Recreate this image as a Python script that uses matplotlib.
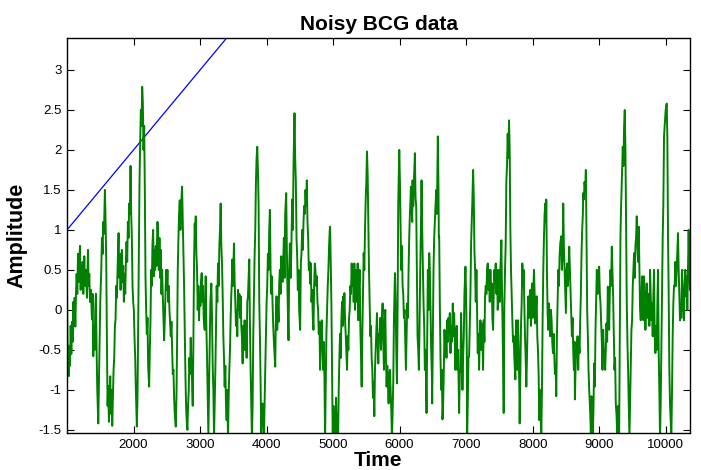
import numpy as np
import matplotlib
matplotlib.use("Agg")
import matplotlib.pyplot as plt
from matplotlib.ticker import FuncFormatter

# ---------------- data ----------------
# Each chunk: sample offsets (in steps of 5 time units from a chunk start time) and amplitudes
chunk1_start = 985
chunk1_off = [3,5,8,10,12,14,16,18,20,22,24,26,28,30,32,34,36,38,40,42,44,46,48,50,52,55,57,60,63,66,68,70,72,75,78,80,82,84,86,88,90,92,94,97,99,101,103,106,108,110,112,114,117,119,121,123,125,127,129,131,133,135,137,139,141,143,145,147,149,151,153,155,158,160,162,164,166,168,170,172,174,176,178,180,182,184,186,188,190,192,194,196,198,200,202,204,206,208,210,213,215,217,219,221,223,225,227,229,231,233,235,237,239,241,243,245,247,250,252,254,256,258,260,262,264,266,268,270,272,275,277,279,281,283,285,287,289,291,293,295,297,299,301,303,305,307,309,311,313,315,317,319,321,323,325,327,330,332,334,336,338,340,342,344,346,349,351,353,355,357,359,361,363,365,367,369,371,373,375,377]
chunk1_val = [0.33,-0.6,-0.83,-0.45,-0.7,-0.2,-0.55,-0.15,-0.4,0.1,-0.2,0.15,-0.21,0.2,0.45,0.2,0.7,0.35,0.6,0.8,0.25,0.55,0.3,0.6,0.2,0.67,0.3,0.5,0.15,0.75,0.3,0.45,0.1,0.25,-0.12,0.2,-0.58,-0.2,-0.5,0.0,0.2,-0.5,-1.0,-1.42,-0.9,-0.4,0.1,0.5,0.9,0.7,1.1,0.95,1.5,1.1,0.6,-0.4,-1.2,-0.95,-1.4,-1.1,-0.83,-1.3,-1.0,-1.45,-1.1,-0.75,-0.6,-0.2,-0.12,0.3,0.15,0.5,0.96,0.4,0.7,0.25,0.6,0.75,0.35,0.55,0.1,0.45,0.2,0.6,0.85,0.6,1.1,0.9,1.33,1.2,1.8,1.2,0.9,0.3,0.1,0.0,-0.35,-0.6,-1.0,-1.46,-1.1,-0.2,0.8,1.6,2.1,2.5,2.3,2.79,2.6,2.0,2.3,1.5,0.4,0.0,-0.3,-0.1,-0.7,-0.96,-0.5,-0.13,0.5,0.3,0.83,1.0,0.42,0.75,0.5,0.8,0.55,1.1,0.9,0.5,0.9,0.4,0.75,0.2,0.5,0.17,-0.1,-0.38,-0.13,0.2,0.5,0.25,0.5,0.1,0.3,0.0,-0.17,-0.33,-0.15,-0.5,-0.8,-0.75,-1.1,-1.3,-1.46,-1.1,-0.4,0.5,0.9,1.2,1.37,1.0,1.3,1.54,1.1,0.7,0.3,-0.3,-0.8,-1.2,-1.4,-1.5,-1.2,-1.0,-0.6,-0.8,-0.35,-0.7]

chunk2_start = 2845
chunk2_off = [7,9,11,13,15,17,18,20,22,24,26,28,30,32,34,36,38,40,42,45,48,50,52,54,56,58,60,62,65,67,69,71,73,75,77,79,81,83,85,87,89,91,93,95,97,99,101,103,105,107,109,111,113,115,117,119,121,123,125,127,128,130,133,135,137,139,141,143,145,147,149,151,153,155,157,159,161,163,165,167,169,171,173,175,177,179,181,183,185,187,189,191,193,195,197,199,201,203,205,207,209,211,213,215,217,219,221,223,225,227,229,231,233,235,237,239,241,243,245,247,249,251,253,255,257,259,261,263,265,267,269,271,273,275,277,279,281,283,285,287,290,292,294,296,297,299,301,303,305,307,308,310,312,314,315,317,319,321,323,325,327,329,332,334,336,338,340,342,344,346,348,350,352,354,356,358,360,362,364,366,368,370,372,374,376]
chunk2_val = [-0.9,-1.2,-0.4,0.6,1.08,0.8,1.17,0.7,0.5,0.0,0.3,-0.13,0.2,0.05,0.35,0.46,0.1,0.3,-0.1,-0.25,0.42,-0.2,-0.6,-1.1,-1.55,-1.0,-0.4,0.1,0.33,-0.1,-0.7,-1.0,-1.6,-1.2,-0.75,-0.2,0.3,0.1,0.58,0.3,0.8,1.0,1.33,0.8,0.58,0.2,-0.33,-0.6,-0.96,-0.7,-1.2,-1.38,-1.0,-1.6,-1.1,-0.75,-0.5,-0.1,0.2,0.4,0.63,0.3,0.83,0.35,0.1,-0.2,0.0,-0.33,0.25,0.0,0.2,-0.1,0.17,-0.2,-0.35,-0.67,-0.2,-0.5,-0.13,-0.5,-0.2,-0.6,0.1,0.17,0.4,0.63,-0.2,-0.75,-1.2,-1.6,-1.2,-0.33,0.2,0.67,1.0,1.6,1.9,2.04,1.75,1.33,0.1,-0.33,-0.9,-1.6,-1.2,-1.17,-1.3,-1.6,-1.2,-0.75,-0.33,0.08,0.3,0.7,0.5,1.0,1.25,0.5,0.2,0.42,0.08,-0.2,-0.4,-0.55,-0.71,-0.1,0.17,-0.25,0.1,-0.15,0.33,0.5,0.2,0.67,0.42,0.35,0.6,0.9,0.4,1.2,1.46,0.75,0.2,-0.2,-0.38,0.5,0.83,0.4,0.67,1.1,1.38,1.0,1.8,2.2,2.46,1.9,1.6,0.9,0.67,0.25,0.5,0.0,-0.25,0.58,0.71,1.0,0.75,1.1,1.3,1.2,1.5,1.3,1.62,1.1,0.9,0.5,0.6,0.33,0.58,0.1,0.25,-0.1,-0.25,0.3,0.58]

chunk3_start = 4704.5
chunk3_off = [6,8,10,12,14,16,18,20,22,25,27,29,31,33,35,37,39,41,43,45,47,49,50,52,54,56,58,60,62,64,66,68,70,72,74,76,78,80,82,84,86,88,90,92,93,95,97,99,101,103,105,107,109,111,113,115,117,119,121,123,125,127,129,131,133,135,137,139,141,143,145,147,149,151,153,155,157,159,161,163,165,167,169,171,173,175,177,179,181,183,185,187,189,191,193,195,197,199,201,203,205,208,210,212,214,216,218,220,222,224,226,228,230,232,234,236,238,240,242,244,245,247,249,251,253,255,257,258,260,262,264,266,268,270,272,274,276,278,280,282,284,286,288,290,292,293,295,297,298,300,302,305,307,309,311,313,315,317,319,321,323,325,327,329,331,333,335,337,339,340,342,344,346,348,350,352,354,356,357,359,361,363,365,367,369,371,373,374,376,377]
chunk3_val = [0.5,0.3,0.42,0.1,0.0,-0.3,-0.15,-0.75,-0.3,-0.13,-0.5,-0.75,-0.4,-0.83,-1.6,-0.9,-0.3,0.0,0.3,0.5,0.8,1.0,1.04,0.6,0.08,-0.7,-1.6,-1.2,-1.4,-1.29,-1.6,-1.1,-1.6,-1.3,-1.6,-1.0,-0.6,-0.3,-0.6,-0.13,0.1,-0.2,0.17,0.05,0.21,-0.13,-0.3,-0.54,-0.75,-0.33,-0.5,-0.1,0.0,0.3,0.2,0.58,0.3,0.5,0.1,0.58,0.0,0.3,0.5,0.1,0.58,-0.13,0.3,0.5,-0.2,-0.6,-0.96,-0.3,0.2,0.71,0.5,1.0,1.37,1.6,1.98,1.7,1.1,0.5,0.1,-0.33,-0.2,-0.6,-0.75,-1.1,-0.9,-1.33,-0.75,-0.5,-0.25,-0.04,-0.4,-0.67,-0.3,-0.33,-0.1,-0.5,-0.2,0.08,-0.4,-0.75,-0.2,0.0,-0.6,-0.96,-0.7,-0.9,-1.17,-0.8,-0.75,-1.0,-1.25,-1.6,-1.3,-0.9,-0.13,0.3,0.46,0.1,-0.5,-0.92,0.0,1.33,1.8,2.0,1.6,1.0,0.5,0.8,0.3,0.2,-0.1,0.0,-0.4,-0.75,-0.33,0.08,-0.1,0.5,0.92,1.2,1.4,1.54,1.29,1.1,1.62,1.3,1.6,1.96,1.4,1.29,0.5,-0.33,-0.5,-0.75,-0.2,0.5,1.0,1.62,1.0,0.5,0.08,-0.2,-0.75,-0.5,-1.0,-1.29,-0.33,0.5,0.0,0.71,0.5,0.0,-0.5,-0.8,-1.17,-0.33,0.5,0.9,1.1,1.33,1.5,1.2,1.8,2.17,1.5,0.9]

chunk4_start = 6564.5
chunk4_off = [6,8,10,12,14,16,18,20,22,24,26,28,30,32,34,36,38,40,42,44,47,49,51,53,55,57,59,61,63,66,68,70,72,74,76,78,80,82,85,87,89,90,92,94,96,98,100,102,104,106,108,110,112,114,116,118,120,122,124,126,128,130,132,134,136,138,140,142,144,146,148,150,152,154,156,158,160,162,164,166,168,170,172,174,176,178,180,182,184,186,188,190,193,195,197,199,200,202,204,206,208,210,212,214,216,218,220,222,224,226,228,230,232,235,237,239,241,243,245,247,248,250,252,254,256,258,260,262,264,266,268,270,272,274,276,278,280,282,285,287,289,291,293,295,297,299,301,303,305,307,309,311,313,315,317,319,321,323,325,327,328,330,332,334,336,338,340,342,344,346,348,350,352,354,356,358,360,362,364,366,368,370,373,375,377]
chunk4_val = [0.92,0.08,-0.6,-1.0,-0.75,-1.37,-1.17,-0.75,-0.25,-0.5,-0.33,-0.6,-0.13,-0.4,-0.1,-0.3,-0.04,-0.54,-0.2,-0.4,0.08,-0.33,-0.04,-0.4,-0.75,-0.3,-0.2,-0.75,-0.5,-1.29,-0.8,-0.75,-0.04,-0.5,-1.0,-0.6,-0.33,0.2,0.54,0.2,-0.5,-1.6,-1.17,-0.6,-0.58,-0.21,0.2,0.83,1.1,1.4,1.75,1.42,0.75,0.5,0.1,0.5,-0.04,-0.54,-0.3,-0.75,-0.33,-0.13,-0.5,-0.17,-0.33,-0.75,-0.13,-0.4,0.17,0.3,0.2,0.5,0.58,0.25,0.5,0.1,0.5,0.2,0.33,-0.1,-0.25,0.2,0.5,0.33,0.58,0.2,0.5,0.0,0.17,0.5,0.1,0.5,0.87,0.2,-0.3,-0.9,-1.29,0.08,0.5,0.83,1.62,1.8,2.2,1.9,2.37,2.0,1.0,0.5,0.17,-0.13,-0.4,-0.33,-0.6,-0.87,-0.13,-0.6,-0.75,-0.13,-0.5,-1.0,-1.42,-0.8,-0.2,0.08,0.58,0.3,0.5,0.08,-0.33,-0.6,-0.96,-0.6,-0.13,0.17,-0.1,0.08,0.25,-0.2,0.33,-0.1,0.2,0.5,0.2,-0.17,0.0,0.17,-0.33,-0.5,-0.8,-1.38,-1.0,-1.2,-1.6,-1.0,-0.13,0.5,0.9,1.2,1.33,1.1,1.38,0.5,-0.04,-0.25,0.08,-0.13,-0.33,0.0,-0.13,-0.4,-0.54,-0.3,-0.54,-0.8,-0.7,-1.08,-0.33,0.08,0.5,0.3,0.67,0.83,0.92,0.5,0.7]

chunk5_start = 8424.5
chunk5_off = [7,9,11,13,15,17,19,21,23,25,27,29,31,33,35,37,39,41,42,44,46,48,50,52,54,56,58,60,62,64,66,67,69,71,73,75,77,79,81,83,85,87,89,90,92,94,96,98,100,102,104,106,108,110,112,115,117,119,121,123,125,127,129,131,133,135,137,139,141,143,145,147,149,151,153,155,157,159,161,163,165,167,169,170,172,175,177,179,181,183,186,188,190,192,194,196,198,200,202,204,206,208,210,212,214,216,218,220,222,224,226,228,230,232,234,236,238,240,242,244,246,248,250,252,254,256,258,260,262,264,266,268,270,272,274,276,278,280,282,284,286,288,290,292,294,296,298,300,302,304,306,308,310,312,315,318,320,322,324,326,328,330,332,334,336,338,340,342,344,346,348,350,352,354,356,358,360,362,364,366,368,370,372,374,376,378,380,382,384,386,388]
chunk5_val = [1.33,0.79,0.5,0.2,-0.04,0.5,0.58,0.3,0.5,0.79,0.5,0.2,-0.04,-0.33,-0.1,-0.5,-0.75,-0.4,-1.12,-0.75,-0.5,-0.54,-0.33,-0.75,-0.4,-0.54,-0.13,0.2,0.71,1.0,1.2,1.46,1.38,1.6,1.5,1.75,0.9,0.0,-0.33,-0.75,-1.0,-1.17,-1.4,-1.6,-1.08,-1.3,-1.6,-1.2,-0.67,-0.96,-0.25,0.1,0.5,0.2,0.4,0.54,0.2,0.08,-0.17,-0.4,-0.75,-0.25,-0.5,-0.54,-0.75,-0.5,-0.17,-0.4,0.29,0.0,-0.25,0.2,0.5,0.3,0.79,0.5,0.17,-0.33,-0.75,-0.6,-1.17,-1.3,-1.5,-1.6,-1.2,-1.6,-0.33,0.92,1.3,1.6,2.04,1.8,2.3,2.5,2.0,1.1,0.08,-0.4,-0.75,-1.2,-1.6,-1.17,-0.75,-0.25,-0.13,0.3,0.5,0.71,0.4,0.8,0.9,1.17,0.8,0.6,1.04,0.5,0.0,-0.13,0.08,0.42,0.0,-0.13,0.42,0.1,-0.25,0.0,0.33,-0.1,0.2,0.0,-0.2,0.5,0.2,-0.13,0.08,-0.33,0.17,0.5,-0.33,-0.54,-0.2,-0.5,0.08,0.5,-0.54,-1.0,-1.6,-1.17,-0.5,0.08,0.9,1.33,2.17,2.3,2.5,2.58,2.17,0.92,0.2,-0.75,-1.17,-1.4,-1.6,-1.04,-0.33,0.08,0.3,0.29,0.6,0.3,0.5,0.75,0.96,0.5,0.17,-0.13,0.0,-0.1,0.5,0.29,0.0,-0.13,0.3,0.5,0.17,0.42,0.0,0.5,1.0,0.5,0.25]

# Reference trend line (blue)
trend_time = [1000, 3400]
trend_val = [1.0, 3.4]

x_ticks = [2000, 3000, 4000, 5000, 6000, 7000, 8000, 9000, 10000]
y_ticks = [-1.5, -1, -0.5, 0, 0.5, 1, 1.5, 2, 2.5, 3]

# ---------------- assemble ----------------
starts = [chunk1_start, chunk2_start, chunk3_start, chunk4_start, chunk5_start]
offs = [chunk1_off, chunk2_off, chunk3_off, chunk4_off, chunk5_off]
vals = [chunk1_val, chunk2_val, chunk3_val, chunk4_val, chunk5_val]
t_all, v_all = [], []
for s, o, v in zip(starts, offs, vals):
    n = min(len(o), len(v))
    t_all.extend(s + 5 * np.asarray(o[:n], dtype=float))
    v_all.extend(v[:n])
t_all = np.asarray(t_all)
v_all = np.asarray(v_all)
order = np.argsort(t_all, kind="stable")
t_all, v_all = t_all[order], v_all[order]

# ---------------- plot ----------------
plt.rcParams['font.family'] = ['Liberation Sans', 'DejaVu Sans']
fig = plt.figure(figsize=(7.01, 4.70), dpi=100)
ax = fig.add_axes([67/701, 1 - 433/470, (690-67)/701, (433-38)/470])

ax.plot(trend_time, trend_val, color='#0000ff', lw=0.9)
ax.plot(t_all, v_all, color='#008000', lw=1.4)

ax.set_xlim(1000, 10365)
ax.set_ylim(-1.54, 3.4)
ax.set_xticks(x_ticks)
ax.set_yticks(y_ticks)
ax.xaxis.set_major_formatter(FuncFormatter(lambda x, p: f"{x:g}"))
ax.yaxis.set_major_formatter(FuncFormatter(lambda y, p: f"{y:g}"))
ax.tick_params(direction='in', length=5, width=0.8, top=True, right=True,
               labelsize=9.5, pad=4, colors='black')
for sp in ax.spines.values():
    sp.set_linewidth(1.0)
    sp.set_color('black')

ax.set_title('Noisy BCG data', fontsize=15, fontweight='bold', pad=6)
ax.set_xlabel('Time', fontsize=15, fontweight='bold', labelpad=0)
ax.set_ylabel('Amplitude', fontsize=15.5, fontweight='bold', labelpad=8)

fig.savefig('out.png', dpi=100, facecolor='white')
